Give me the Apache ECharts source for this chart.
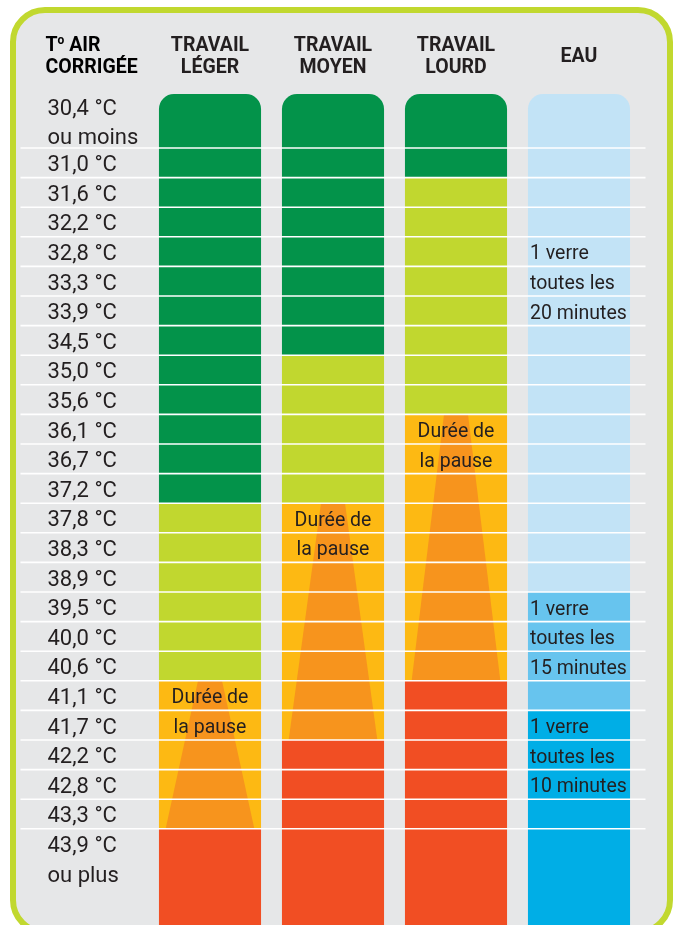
<!DOCTYPE html>
<html><head><meta charset="utf-8">
<script src="https://cdn.jsdelivr.net/npm/echarts@6/dist/echarts.min.js"></script>
<style>html,body{margin:0;padding:0;background:#fff}#c{width:678px;height:925px}</style>
</head><body><div id="c"></div>
<script>
// ---------- DATA ----------
const columnHeaders = ['Tº AIR\nCORRIGÉE', 'TRAVAIL\nLÉGER', 'TRAVAIL\nMOYEN', 'TRAVAIL\nLOURD', 'EAU'];
const temperatureLabels = ['30,4 °C\nou moins', '31,0 °C', '31,6 °C', '32,2 °C', '32,8 °C', '33,3 °C', '33,9 °C', '34,5 °C',
  '35,0 °C', '35,6 °C', '36,1 °C', '36,7 °C', '37,2 °C', '37,8 °C', '38,3 °C', '38,9 °C', '39,5 °C', '40,0 °C',
  '40,6 °C', '41,1 °C', '41,7 °C', '42,2 °C', '42,8 °C', '43,3 °C', '43,9 °C\nou plus'];
// level per temperature row : 0 = vert foncé, 1 = vert clair, 2 = durée de la pause, 3 = rouge
const travailLeger = [0,0,0,0,0,0,0,0,0,0,0,0,0, 1,1,1,1,1,1, 2,2,2,2,2, 3];
const travailMoyen = [0,0,0,0,0,0,0,0, 1,1,1,1,1, 2,2,2,2,2,2,2,2, 3,3,3,3];
const travailLourd = [0,0, 1,1,1,1,1,1,1,1, 2,2,2,2,2,2,2,2,2, 3,3,3,3,3,3];
// water: 0 = 20 min, 1 = 15 min, 2 = 10 min
const eau = [0,0,0,0,0,0,0,0,0,0,0,0,0,0,0,0, 1,1,1,1, 2,2,2,2,2];
const pauseLabel = 'Durée de\nla pause';
const eauLabels = ['1 verre\ntoutes les\n20 minutes', '1 verre\ntoutes les\n15 minutes', '1 verre\ntoutes les\n10 minutes'];
const eauLabelRows = [4, 16, 20];

// ---------- STYLE ----------
const workColors = ['#03934a', '#c1d72f', '#fdb913', '#f14e23'];
const pauseColor = '#f7941d';
const waterColors = ['#c2e3f6', '#67c4ee', '#00aee6'];
const textColor = '#231f20';
const Y_MIN = -0.824, Y_MAX = 27.25;
const N = temperatureLabels.length;
const BAR_RATIO = 0.83;
const TXT_DY = 3;

function rowTop(i) { return i === 0 ? Y_MIN : i; }
function rowBottom(i) { return i === N - 1 ? Y_MAX : i + 1; }

function segments(levels) {
  const out = [];
  let s = 0;
  for (let i = 1; i <= levels.length; i++) {
    if (i === levels.length || levels[i] !== levels[s]) { out.push([s, i - 1, levels[s]]); s = i; }
  }
  return out;
}

const columnsData = [travailLeger, travailMoyen, travailLourd, eau];
const cellData = [];
columnsData.forEach((lv, k) => {
  segments(lv).forEach(sg => cellData.push([k + 1, sg[0], sg[1], sg[2]]));
});

// text items
const textItems = [];
textItems.push({ col: 0, row: 0, text: columnHeaders[0], kind: 'head0' });
temperatureLabels.forEach((t, i) => textItems.push({ col: 0, row: i, text: t, kind: 'temp' }));
[travailLeger, travailMoyen, travailLourd].forEach((lv, k) => {
  const start = lv.indexOf(2);
  textItems.push({ col: k + 1, row: start, text: pauseLabel, kind: 'pause' });
});
eauLabels.forEach((t, i) => textItems.push({ col: 4, row: eauLabelRows[i], text: t, kind: 'eau' }));

const boundaries = [];
for (let i = 1; i < N; i++) boundaries.push(i);

const headFont = { fontFamily: 'Roboto', fontWeight: 'bold', fontSize: 19.5, lineHeight: 22, color: textColor };

const chart = echarts.init(document.getElementById('c'));
chart.setOption({
  animation: false,
  backgroundColor: '#ffffff',
  graphic: [{
    type: 'rect', z: -10, silent: true,
    shape: { x: 13, y: 10, width: 657, height: 922, r: 32 },
    style: { fill: '#e6e7e8', stroke: '#c1d82f', lineWidth: 6 }
  }],
  grid: { left: 25.5, right: 37.5, top: 94, bottom: 0 },
  xAxis: {
    type: 'category', data: columnHeaders, position: 'top',
    axisLine: { show: false }, axisTick: { show: false }, splitLine: { show: false },
    axisLabel: Object.assign({
      interval: 0, margin: 37, verticalAlign: 'middle',
      formatter: (v, idx) => idx === 0 ? '' : v
    }, headFont)
  },
  yAxis: {
    type: 'value', inverse: true, min: Y_MIN, max: Y_MAX, show: false, splitLine: { show: false }
  },
  series: [
    {
      type: 'custom', z: 2, clip: false,
      encode: { x: 0, y: [1, 2] },
      data: cellData,
      renderItem(params, api) {
        const c = api.value(0), s = api.value(1), e = api.value(2), lvl = api.value(3);
        const bandW = api.size([1, 0])[0];
        const w = bandW * BAR_RATIO;
        const p0 = api.coord([c, rowTop(s)]);
        const p1 = api.coord([c, rowBottom(e)]);
        const x = p0[0] - w / 2, y = p0[1], h = p1[1] - p0[1];
        const isWater = c === 4;
        const color = isWater ? waterColors[lvl] : workColors[lvl];
        const children = [{
          type: 'rect',
          shape: { x: x, y: y, width: w, height: h, r: s === 0 ? [15, 15, 0, 0] : 0 },
          style: { fill: color }
        }];
        if (!isWater && lvl === 2) {
          const cx = p0[0];
          children.push({
            type: 'polygon',
            shape: { points: [[cx - 12, y], [cx + 12, y], [x + w - 6.7, y + h], [x + 6.7, y + h]] },
            style: { fill: pauseColor }
          });
        }
        return { type: 'group', children };
      }
    },
    {
      type: 'custom', z: 3, clip: false,
      encode: { y: 0 },
      data: boundaries.map(b => [b]),
      renderItem(params, api) {
        const cs = params.coordSys;
        const y = api.coord([0, api.value(0)])[1];
        return {
          type: 'line',
          shape: { x1: cs.x - 5, y1: y, x2: cs.x + cs.width + 5, y2: y },
          style: { stroke: '#ffffff', lineWidth: 1.6 }
        };
      }
    },
    {
      type: 'custom', z: 4, clip: false,
      encode: { x: 0, y: 1 },
      data: textItems.map(t => [t.col, t.row]),
      renderItem(params, api) {
        const item = textItems[params.dataIndex];
        const bandW = api.size([1, 0])[0];
        const unit = api.size([0, 1])[1];
        const c = api.value(0), r = api.value(1);
        const top = api.coord([c, rowTop(r)]);
        const cx = top[0];
        if (item.kind === 'head0') {
          return {
            type: 'text',
            style: {
              text: '{h|T}{s|o}{h| AIR}\n{h|CORRIGÉE}',
              x: cx - bandW / 2 + 20, y: top[1] - 37, align: 'left', verticalAlign: 'middle',
              rich: {
                h: headFont,
                s: { fontFamily: 'Roboto', fontWeight: 'bold', fontSize: 12, lineHeight: 12, verticalAlign: 'top', color: textColor }
              }
            }
          };
        }
        if (item.kind === 'temp') {
          const bot = api.coord([c, rowBottom(r)]);
          const lines = item.text.split('\n').length;
          let ty = top[1];
          if (r === 0) ty = (top[1] + bot[1]) / 2 - lines * unit / 2;
          return {
            type: 'text',
            style: {
              text: item.text, x: cx - bandW / 2 + 22, y: ty + TXT_DY, align: 'left', verticalAlign: 'top',
              fontFamily: 'Roboto', fontSize: 22, lineHeight: unit, fill: textColor
            }
          };
        }
        if (item.kind === 'pause') {
          return {
            type: 'text',
            style: {
              text: item.text, x: cx, y: top[1] + TXT_DY, align: 'center', verticalAlign: 'top',
              fontFamily: 'Roboto', fontSize: 19.5, lineHeight: unit, fill: textColor
            }
          };
        }
        const w = bandW * BAR_RATIO;
        return {
          type: 'text',
          style: {
            text: item.text, x: cx - w / 2 + 2, y: top[1] + TXT_DY, align: 'left', verticalAlign: 'top',
            fontFamily: 'Roboto', fontSize: 19.5, lineHeight: unit, fill: textColor
          }
        };
      }
    }
  ]
});
</script>
</body></html>
